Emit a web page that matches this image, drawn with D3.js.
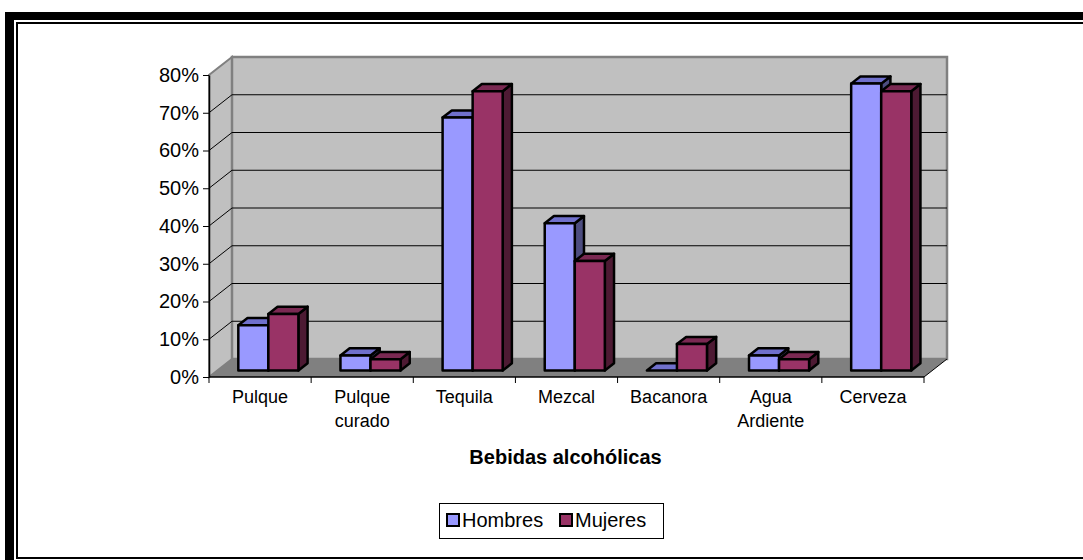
<!DOCTYPE html>
<html>
<head>
<meta charset="utf-8">
<script src="https://cdn.jsdelivr.net/npm/d3@7"></script>
<style>
body{margin:0;background:#fff}
text{font-family:Arial,"Liberation Sans",sans-serif;fill:#000}
</style>
</head>
<body>
<div class="plot"></div>
<script>
const categories = ["Pulque", "Pulque\ncurado", "Tequila", "Mezcal", "Bacanora", "Agua\nArdiente", "Cerveza"]
const seriesNames = ["Hombres", "Mujeres"]
const hombres = [0.12, 0.04, 0.67, 0.39, 0, 0.04, 0.76]
const mujeres = [0.15, 0.03, 0.74, 0.29, 0.07, 0.03, 0.74]
const yTicks = [0, 0.1, 0.2, 0.3, 0.4, 0.5, 0.6, 0.7, 0.8]
const axisTitle = "Bebidas alcohólicas"

// face colours: front, top, side
const colors = [
  {front: "#9999ff", top: "#7070cc", side: "#4d4d80"},
  {front: "#993366", top: "#7a2952", side: "#4d1a33"}
]

const W = 1083, H = 560
const svg = d3.select(".plot").append("svg")
  .attr("width", W)
  .attr("height", H)

// double frame round the chart area
svg.append("rect").attr("x", 5).attr("y", 12).attr("width", 1200).attr("height", 600).attr("fill", "#000")
svg.append("rect").attr("x", 14).attr("y", 20).attr("width", 1200).attr("height", 600).attr("fill", "#fff")
svg.append("rect").attr("x", 16).attr("y", 22).attr("width", 1200).attr("height", 537).attr("fill", "#000")
svg.append("rect").attr("x", 18).attr("y", 24).attr("width", 1200).attr("height", 533).attr("fill", "#fff")

// front plane of the plot and the depth vector
const x0 = 209, x1 = 924, yBase = 377, yTop = 75
const depth = [23, -18]
const barFront = 0.36, barBack = 0.76

let xScale = d3.scaleBand()
  .domain(d3.range(categories.length))
  .range([x0, x1])
let yScale = d3.scaleLinear()
  .domain([0, 0.8])
  .range([yBase, yTop])
let xSub = d3.scaleBand()
  .domain(d3.range(seriesNames.length))
  .range([0, xScale.bandwidth()])
  .paddingOuter(0.7)
  .paddingInner(0)

const pt = (x, y, f) => [x + depth[0] * f, y + depth[1] * f]
const poly = pts => pts.map(p => p.join(",")).join(" ")

let walls = svg.append("g")
// side wall
walls.append("polygon")
  .attr("points", poly([pt(x0, yBase, 0), pt(x0, yTop, 0), pt(x0, yTop, 1), pt(x0, yBase, 1)]))
  .attr("fill", "#c0c0c0")
  .attr("stroke", "#808080")
  .attr("stroke-width", 2)
// back wall
walls.append("polygon")
  .attr("points", poly([pt(x0, yTop, 1), pt(x1, yTop, 1), pt(x1, yBase, 1), pt(x0, yBase, 1)]))
  .attr("fill", "#c0c0c0")
  .attr("stroke", "#808080")
  .attr("stroke-width", 2.5)
// floor
walls.append("polygon")
  .attr("points", poly([pt(x0, yBase, 0), pt(x1, yBase, 0), pt(x1, yBase, 1), pt(x0, yBase, 1)]))
  .attr("fill", "#808080")
walls.append("line")
  .attr("x1", x1).attr("y1", yBase)
  .attr("x2", pt(x1, yBase, 1)[0]).attr("y2", pt(x1, yBase, 1)[1])
  .attr("stroke", "#000")

// gridlines
let grid = svg.append("g")
yTicks.slice(1, -1).forEach(function(t){
  let y = yScale(t)
  grid.append("polyline")
    .attr("points", poly([pt(x0, y, 0), pt(x0, y, 1), pt(x1, y, 1)]))
    .attr("fill", "none")
    .attr("stroke", "#000")
    .attr("stroke-width", 1)
})

// axes
let yAxis = d3.axisLeft(yScale)
  .tickValues(yTicks)
  .tickFormat(d3.format(".0%"))
  .tickSize(6)
  .tickSizeOuter(0)
svg.append("g")
  .attr("transform", "translate(" + x0 + ",0)")
  .call(yAxis)
  .call(g => g.select(".domain").attr("stroke", "#000").attr("stroke-width", 1.5))
  .call(g => g.selectAll(".tick line").attr("stroke", "#000"))
  .call(g => g.selectAll(".tick text")
    .attr("x", -10)
    .attr("font-size", 20)
    .attr("font-family", "Arial, 'Liberation Sans', sans-serif"))

let xAxisG = svg.append("g")
xAxisG.append("line")
  .attr("x1", x0).attr("x2", x1)
  .attr("y1", yBase).attr("y2", yBase)
  .attr("stroke", "#000")
  .attr("stroke-width", 1.5)
d3.range(categories.length + 1).forEach(function(i){
  let x = i < categories.length ? xScale(i) : x1
  xAxisG.append("line")
    .attr("x1", x).attr("x2", x)
    .attr("y1", yBase).attr("y2", yBase + 6)
    .attr("stroke", "#000")
})
categories.forEach(function(c, i){
  let t = xAxisG.append("text")
    .attr("x", xScale(i) + xScale.bandwidth() / 2)
    .attr("y", 403)
    .attr("text-anchor", "middle")
    .attr("font-size", 18)
  c.split("\n").forEach(function(line, j){
    t.append("tspan")
      .attr("x", xScale(i) + xScale.bandwidth() / 2)
      .attr("dy", j === 0 ? 0 : 23.5)
      .text(line)
  })
})

svg.append("text")
  .attr("x", 565.5)
  .attr("y", 464)
  .attr("text-anchor", "middle")
  .attr("font-size", 20)
  .attr("font-weight", "bold")
  .text(axisTitle)

// bars
let bars = svg.append("g")
  .attr("stroke", "#000")
  .attr("stroke-width", 2.5)
  .attr("stroke-linejoin", "round")
categories.forEach(function(c, i){
  [hombres, mujeres].forEach(function(values, s){
    let xl = xScale(i) + xSub(s)
    let xr = xl + xSub.bandwidth()
    let yt = yScale(values[i])
    let col = colors[s]
    // side
    bars.append("polygon")
      .attr("points", poly([pt(xr, yt, barFront), pt(xr, yt, barBack), pt(xr, yBase, barBack), pt(xr, yBase, barFront)]))
      .attr("fill", col.side)
    // top
    bars.append("polygon")
      .attr("points", poly([pt(xl, yt, barFront), pt(xl, yt, barBack), pt(xr, yt, barBack), pt(xr, yt, barFront)]))
      .attr("fill", col.top)
    // front
    let a = pt(xl, yt, barFront), b = pt(xr, yBase, barFront)
    bars.append("rect")
      .attr("x", a[0]).attr("y", a[1])
      .attr("width", b[0] - a[0]).attr("height", b[1] - a[1])
      .attr("fill", col.front)
  })
})

// legend
let legend = svg.append("g")
legend.append("rect")
  .attr("x", 439.5).attr("y", 503.5)
  .attr("width", 224).attr("height", 35)
  .attr("fill", "#fff")
  .attr("stroke", "#000")
  .attr("stroke-width", 1)
const legendX = [447, 560]
seriesNames.forEach(function(n, s){
  legend.append("rect")
    .attr("x", legendX[s]).attr("y", 514)
    .attr("width", 12).attr("height", 12)
    .attr("fill", colors[s].front)
    .attr("stroke", "#000")
    .attr("stroke-width", 2)
  legend.append("text")
    .attr("x", legendX[s] + 15)
    .attr("y", 527)
    .attr("font-size", 20)
    .text(n)
})
</script>
</body>
</html>
